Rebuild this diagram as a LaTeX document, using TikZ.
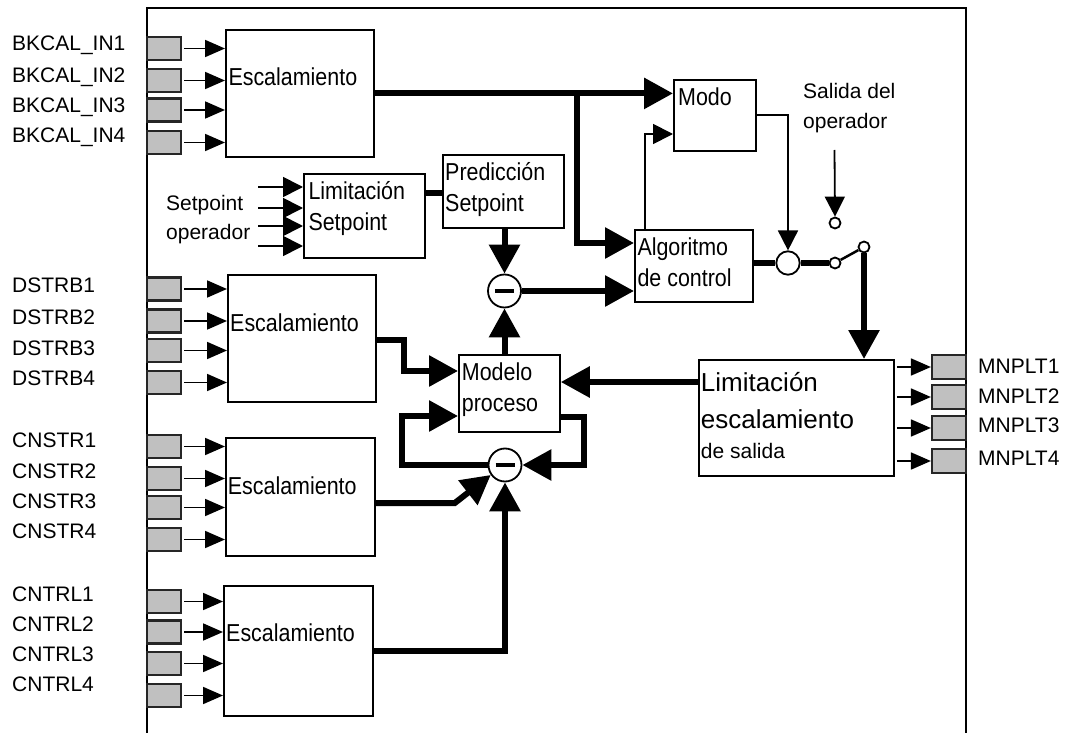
\documentclass[tikz,border=0pt]{standalone}
\usepackage{fontspec}
\setmainfont{Liberation Sans}
\newfontfamily\boxfam[FakeStretch=0.875]{Liberation Sans}
\usetikzlibrary{arrows.meta,calc}
\definecolor{portgray}{RGB}{192,192,192}
\tikzset{
  blk/.style={draw, line width=1.8pt, rectangle, inner sep=0pt, fill=white, anchor=north west},
  gbox/.style={draw=black!85, line width=2.2pt, fill=portgray, minimum width=34pt, minimum height=23pt, inner sep=0pt},
  minus/.style={draw, circle, line width=1.8pt, fill=white, minimum size=33pt, inner sep=0pt},
  swc/.style={draw, circle, line width=1.8pt, fill=white, minimum size=23.4pt, inner sep=0pt},
  term/.style={draw, circle, line width=1.8pt, fill=white, minimum size=11pt, inner sep=0pt},
  lbl/.style={font=\fontsize{21}{25}\selectfont, anchor=base west, inner sep=0pt},
  bxt/.style={font=\boxfam\fontsize{24.5}{29}\selectfont, anchor=base west, inner sep=0pt},
  bigt/.style={font=\fontsize{26}{30}\selectfont, anchor=base west, inner sep=0pt},
  thk/.style={line width=6pt},
  thkarr/.style={line width=6pt, -{Triangle[length=29pt,width=30pt]}},
  inarr/.style={line width=1.8pt, shorten <=2pt, -{Triangle[length=20pt,width=17pt]}},
  medarr/.style={line width=1.8pt, -{Triangle[length=20pt,width=20pt]}},
}
\begin{document}
\begin{tikzpicture}[x=1pt,y=-1pt]
\useasboundingbox (0,0) rectangle (1066,733);
% frame
\coordinate (fbl) at (147,733);
\coordinate (ftl) at (147,8);
\coordinate (ftr) at (966,8);
\coordinate (fbr) at (966,733);
\draw[line width=2pt] (fbl) -- (ftl) -- (ftr) -- (fbr);

% blocks
\node[blk, minimum width=148pt, minimum height=127pt] (esc1) at (225,29) {};
\node[blk, minimum width=148pt, minimum height=127pt] (esc2) at (227,274) {};
\node[blk, minimum width=149pt, minimum height=118pt] (esc3) at (225,437) {};
\node[blk, minimum width=149pt, minimum height=130pt] (esc4) at (223,585) {};
\node[blk, minimum width=121pt, minimum height=84pt] (limsp) at (303,173) {};
\node[blk, minimum width=121pt, minimum height=73pt] (pred) at (442,154) {};
\node[blk, minimum width=82pt, minimum height=71pt] (modo) at (673,79) {};
\node[blk, minimum width=118pt, minimum height=72pt] (alg) at (634,229) {};
\node[blk, minimum width=101pt, minimum height=77pt] (modelo) at (458,354) {};
\node[blk, minimum width=195pt, minimum height=116pt] (limout) at (698,359) {};

% block texts
\node[bxt] (esc1t) at (228.3,86) {Escalamiento};
\node[bxt] (esc2t) at (230,331.7) {Escalamiento};
\node[bxt] (esc3t) at (227.7,494) {Escalamiento};
\node[bxt] (esc4t) at (226,641.7) {Escalamiento};
\node[bxt] (limspt1) at (308.3,199.3) {Limitación};
\node[bxt] (limspt2) at (308.3,230) {Setpoint};
\node[bxt] (predt1) at (445,180) {Predicción};
\node[bxt] (predt2) at (445,211.7) {Setpoint};
\node[bxt] (modot) at (678,106) {Modo};
\node[bxt] (algt1) at (637.3,255) {Algoritmo};
\node[bxt] (algt2) at (637.3,286.7) {de control};
\node[bxt] (modelot1) at (461.7,380) {Modelo};
\node[bxt] (modelot2) at (461.7,411.7) {proceso};
\node[bigt] (limoutt1) at (700.7,391.7) {Limitación};
\node[bigt] (limoutt2) at (700.7,428.3) {escalamiento};
\node[lbl] (limoutt3) at (700.7,458.3) {de salida};

% summing / switch circles
\node[minus] (m1) at (504.5,291) {\rule{19pt}{4pt}};
\node[minus] (m2) at (505,465) {\rule{19pt}{4pt}};
\node[swc] (sw) at (788,263) {};
\node[term] (t1) at (835,263) {};
\node[term] (t2) at (864,247) {};
\node[term] (t3) at (835,223) {};

% input ports
\foreach \n/\y in {b1/48.5,b2/80.5,b3/110,b4/142.5}{
  \node[gbox] (\n) at (164,\y) {};
  \draw[inarr] (\n.east) -- (\n.east -| esc1.west);
}
\foreach \n/\y in {d1/289,d2/321,d3/350.5,d4/382.5}{
  \node[gbox] (\n) at (164,\y) {};
  \draw[inarr] (\n.east) -- (\n.east -| esc2.west);
}
\foreach \n/\y in {c1/446.5,c2/478.5,c3/507.5,c4/539.5}{
  \node[gbox] (\n) at (164,\y) {};
  \draw[inarr] (\n.east) -- (\n.east -| esc3.west);
}
\foreach \n/\y in {k1/601.5,k2/632,k3/663.5,k4/695.5}{
  \node[gbox] (\n) at (164,\y) {};
  \draw[inarr] (\n.east) -- (\n.east -| esc4.west);
}
% output ports
\foreach \n/\y in {o1/367,o2/397,o3/428,o4/461}{
  \node[gbox, minimum height=24pt] (\n) at (949,\y) {};
  \draw[inarr] (\n.west -| limout.east) -- (\n.west);
}

% labels
\node[lbl] (lb1) at (12,51) {BKCAL\_IN1};
\node[lbl] (lb2) at (12,82.5) {BKCAL\_IN2};
\node[lbl] (lb3) at (12,112.5) {BKCAL\_IN3};
\node[lbl] (lb4) at (12,142.5) {BKCAL\_IN4};
\node[lbl] (ld1) at (12,292.7) {DSTRB1};
\node[lbl] (ld2) at (12,324) {DSTRB2};
\node[lbl] (ld3) at (12,355) {DSTRB3};
\node[lbl] (ld4) at (12,385) {DSTRB4};
\node[lbl] (lc1) at (12,447.3) {CNSTR1};
\node[lbl] (lc2) at (12,478.3) {CNSTR2};
\node[lbl] (lc3) at (12,508.3) {CNSTR3};
\node[lbl] (lc4) at (12,538.3) {CNSTR4};
\node[lbl] (lk1) at (12,601.7) {CNTRL1};
\node[lbl] (lk2) at (12,631) {CNTRL2};
\node[lbl] (lk3) at (12,661) {CNTRL3};
\node[lbl] (lk4) at (12,691.7) {CNTRL4};
\node[lbl] (lo1) at (978,373.3) {MNPLT1};
\node[lbl] (lo2) at (978,403.3) {MNPLT2};
\node[lbl] (lo3) at (978,432.7) {MNPLT3};
\node[lbl] (lo4) at (978,465) {MNPLT4};
\node[lbl] (lsp1) at (166,210) {Setpoint};
\node[lbl] (lsp2) at (166,239.3) {operador};
\node[lbl] (lsal1) at (803,98.3) {Salida del};
\node[lbl] (lsal2) at (803,128.3) {operador};

% setpoint inputs
\foreach \n/\y in {sp1/187,sp2/208,sp3/226,sp4/246}{
  \coordinate (\n) at (258,\y);
  \draw[medarr] (\n) -- (\n -| limsp.west);
}

% connectors
\draw[thkarr] (esc1.east) -- (esc1.east -| modo.west);
\coordinate (br) at (577,92.5);
\draw[thkarr] (br) |- (alg.west |- 0,243);
\draw[medarr] ($(alg.north west)+(11,0)$) |- (modo.west |- 0,134);
\draw[medarr] (modo.east) -| (sw.north);
\draw[thk] (alg.east |- sw.west) -- (sw.west);
\draw[thk] (sw.east) -- (t1.west);
\draw[line width=2.5pt] (t1) -- (t2);
\draw[thkarr] (t2.south) -- (t2.south |- limout.north);
\coordinate (sal) at (834.5,150);
\draw[medarr] (sal) -- (t3.north);
\draw[thk] (limsp.east |- 0,193) -- (pred.west |- 0,193);
\draw[thkarr] (m1.north |- pred.south) -- (m1.north);
\draw[thkarr] (m1.east) -- (m1.east -| alg.west);
\draw[thkarr] (m1.south |- modelo.north) -- (m1.south);
\draw[thkarr] (limout.west |- 0,382) -- (modelo.east |- 0,382);
\draw[thkarr] (esc2.east |- 0,340) -- ++(27,0) -- ++(0,31) -- (modelo.west |- 0,371);
\draw[thkarr] (modelo.east |- 0,417) -- ++(23,0) |- (m2.east);
\draw[thkarr] (m2.west) -- ++(-86,0) |- (modelo.west |- 0,416);
\draw[thkarr] (esc3.east |- 0,503) -- ++(79,0) -- (m2.215);
\draw[thkarr] (esc4.east) -| (m2.south);
\end{tikzpicture}
\end{document}
